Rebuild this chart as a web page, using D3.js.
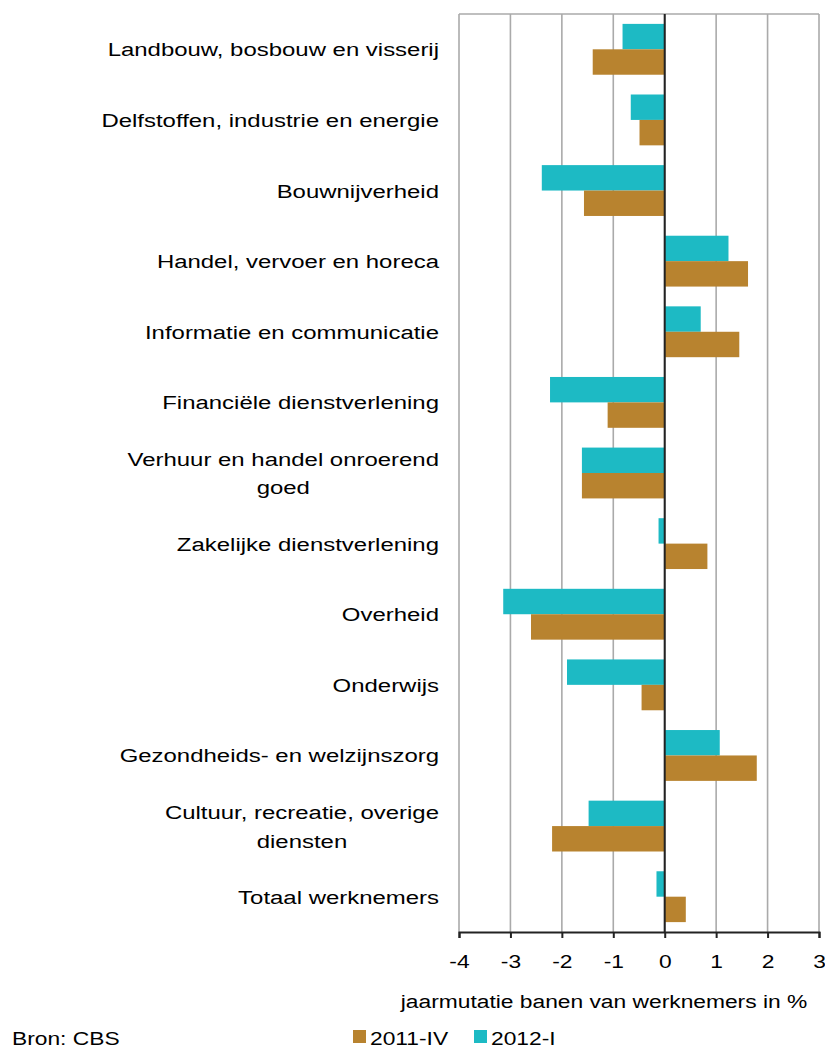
<!DOCTYPE html>
<html><head><meta charset="utf-8">
<script src="https://cdn.jsdelivr.net/npm/d3@7"></script>
<style>
body{margin:0;background:#fff}
svg{display:block}
text{font-family:"Liberation Sans",Arial,sans-serif;fill:#000}
</style>
</head><body><svg id="c" width="825" height="1050"></svg>
<script>
const categories = [
  "Landbouw, bosbouw en visserij",
  "Delfstoffen, industrie en energie",
  "Bouwnijverheid",
  "Handel, vervoer en horeca",
  "Informatie en communicatie",
  "Financiële dienstverlening",
  "Verhuur en handel onroerend\ngoed",
  "Zakelijke dienstverlening",
  "Overheid",
  "Onderwijs",
  "Gezondheids- en welzijnszorg",
  "Cultuur, recreatie, overige\ndiensten",
  "Totaal werknemers"
];
const seriesNames = ["2012-I", "2011-IV"];
const values2012I  = [-0.82, -0.66, -2.39, 1.24, 0.70, -2.23, -1.61, -0.12, -3.14, -1.90, 1.07, -1.48, -0.16];
const values2011IV = [-1.40, -0.49, -1.57, 1.62, 1.45, -1.11, -1.61, 0.83, -2.60, -0.45, 1.79, -2.19, 0.41];
const tickValues = [-4, -3, -2, -1, 0, 1, 2, 3];
const legendOrder = ["2011-IV", "2012-I"];
const axisTitle = "jaarmutatie banen van werknemers in %";
const sourceText = "Bron: CBS";

const colors = {"2011-IV": "#B8832F", "2012-I": "#1DBAC4"};
const SX = 1.2, SXL = 1.26, FS = 19;

const svg = d3.select("#c");
const x = d3.scaleLinear().domain([-4, 3]).range([459, 819]);
const y = d3.scaleBand().domain(categories).range([14, 932]).paddingInner(0.28).paddingOuter(0.14);
const ys = d3.scaleBand().domain(seriesNames).range([0, y.bandwidth()]);

// grid
svg.append("g").selectAll("line").data(tickValues).join("line")
  .attr("x1", d => x(d)).attr("x2", d => x(d))
  .attr("y1", 14).attr("y2", 932)
  .attr("stroke", "#aaaaaa").attr("stroke-width", 1.6);
svg.append("line").attr("x1", x(-4)).attr("x2", x(3)).attr("y1", 14).attr("y2", 14)
  .attr("stroke", "#aaaaaa").attr("stroke-width", 1.6);

// bars
const data = [];
categories.forEach((c, i) => {
  data.push({cat: c, s: "2012-I", v: values2012I[i]});
  data.push({cat: c, s: "2011-IV", v: values2011IV[i]});
});
svg.append("g").selectAll("rect").data(data).join("rect")
  .attr("x", d => x(Math.min(0, d.v)))
  .attr("width", d => Math.abs(x(d.v) - x(0)))
  .attr("y", d => y(d.cat) + ys(d.s))
  .attr("height", ys.bandwidth())
  .attr("fill", d => colors[d.s]);

// zero line
svg.append("line").attr("x1", x(0)).attr("x2", x(0)).attr("y1", 14).attr("y2", 932)
  .attr("stroke", "#222").attr("stroke-width", 2);

// bottom axis
const ax = svg.append("g").attr("transform", "translate(0,932)")
  .call(d3.axisBottom(x).tickValues(tickValues).tickSize(6).tickPadding(17).tickFormat(d => String(d)));
ax.select(".domain").attr("stroke", "#222").attr("stroke-width", 2);
ax.selectAll(".tick line").attr("stroke", "#222").attr("stroke-width", 2);
ax.selectAll(".tick text").attr("font-size", FS).attr("font-family", null)
  .attr("transform", `scale(${SX},1)`).attr("fill", "#000");

// category labels
const lg = svg.append("g");
categories.forEach(c => {
  const lines = c.split("\n");
  const g = lg.append("g")
    .attr("transform", `translate(439,${y(c) + y.bandwidth() / 2}) scale(${SXL},1)`);
  const texts = lines.map((l, i) => g.append("text").attr("font-size", FS)
    .attr("y", (i - (lines.length - 1) / 2) * 29 + 7).text(l));
  if (lines.length === 1) {
    texts[0].attr("text-anchor", "end");
  } else {
    const w = d3.max(texts, t => t.node().getComputedTextLength());
    texts.forEach(t => t.attr("text-anchor", "middle").attr("x", -w / 2));
  }
});

// axis title
svg.append("text").attr("font-size", FS).attr("text-anchor", "middle")
  .attr("transform", `translate(604,1008) scale(${SX},1)`).text(axisTitle);

// legend
const legX = [353, 474];
legendOrder.forEach((s, i) => {
  svg.append("rect").attr("x", legX[i]).attr("y", 1030).attr("width", 13).attr("height", 13)
    .attr("fill", colors[s]);
  svg.append("text").attr("font-size", FS)
    .attr("transform", `translate(${legX[i] + 17},1045) scale(${SX},1)`).text(s);
});

// source
svg.append("text").attr("font-size", FS)
  .attr("transform", `translate(12,1045) scale(${SX},1)`).text(sourceText);
</script>
</body></html>
